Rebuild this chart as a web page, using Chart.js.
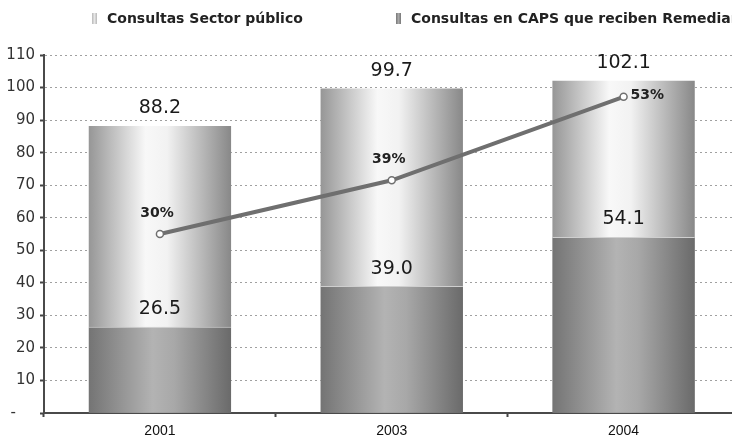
<!DOCTYPE html>
<html>
<head>
<meta charset="utf-8">
<script src="https://cdn.jsdelivr.net/npm/chart.js@4"></script>
<style>
  html, body { margin: 0; padding: 0; background: #fff; }
  body { width: 732px; height: 438px; overflow: hidden; }
  #wrap { position: relative; width: 745px; height: 438px; }
</style>
</head>
<body>
<div id="wrap"><canvas id="consultas" width="745" height="438"></canvas></div>
<script>
// años y series
const years = ['2001', '2003', '2004'];
const consultasSector = [88.2, 99.7, 102.1];
const consultasCaps = [26.5, 39.0, 54.1];
const pctCaps = [30, 39, 53];
const legendLabels = ['Consultas Sector público', 'Consultas en CAPS que reciben Remediar'];

const barPct = 0.614;
const fontFace = '"DejaVu Sans", Verdana, sans-serif';

// degradado horizontal sobre el ancho de cada barra
const barGradient = stops => ctx => {
  const chart = ctx.chart;
  if (!chart.chartArea || ctx.type !== 'data') return stops[1][1];
  const xs = chart.scales.x;
  const cx = xs.getPixelForValue(ctx.dataIndex);
  const half = xs.width / years.length * barPct / 2;
  const g = chart.ctx.createLinearGradient(cx - half, 0, cx + half, 0);
  stops.forEach(([o, c]) => g.addColorStop(o, c));
  return g;
};

const lightStops = [[0, '#969696'], [0.4, '#f8f8f8'], [0.55, '#f2f2f2'], [1, '#888888']];
const darkStops = [[0, '#747474'], [0.45, '#b3b3b3'], [0.6, '#a8a8a8'], [1, '#6a6a6a']];

// leyenda dibujada a mano arriba del gráfico
const legendPlugin = {
  id: 'legendaManual',
  afterDraw(chart) {
    const c = chart.ctx;
    const items = [
      {x: 92, fill: ['#e6e6e6', '#b8b8b8']},
      {x: 396, fill: ['#a8a8a8', '#777777']}
    ];
    c.save();
    items.forEach((it, i) => {
      const g = c.createLinearGradient(it.x, 0, it.x + 5, 0);
      g.addColorStop(0, it.fill[1]);
      g.addColorStop(0.5, it.fill[0]);
      g.addColorStop(1, it.fill[1]);
      c.fillStyle = g;
      c.fillRect(it.x, 13, 5, 11);
      c.fillStyle = '#222';
      c.font = 'bold 14px ' + fontFace;
      c.textBaseline = 'middle';
      c.textAlign = 'left';
      c.fillText(legendLabels[i], it.x + 15, 19);
    });
    c.restore();
  }
};

// etiquetas de valores sobre barras y puntos
const valueLabels = {
  id: 'valueLabels',
  afterDatasetsDraw(chart) {
    const c = chart.ctx;
    c.save();
    chart.data.datasets.forEach((ds, di) => {
      const meta = chart.getDatasetMeta(di);
      meta.data.forEach((el, i) => {
        const v = ds.data[i];
        if (ds.type === 'line') {
          c.font = 'bold 14px ' + fontFace;
          c.fillStyle = '#222';
          const txt = v + '%';
          if (i === ds.data.length - 1) {
            c.textAlign = 'left';
            c.textBaseline = 'middle';
            c.fillText(txt, el.x + 7, el.y - 1);
          } else {
            c.textAlign = 'center';
            c.textBaseline = 'bottom';
            c.fillText(txt, el.x - 3, el.y - 14);
          }
        } else {
          c.font = '19px ' + fontFace;
          c.fillStyle = '#1a1a1a';
          c.textAlign = 'center';
          c.textBaseline = 'bottom';
          c.fillText(v.toFixed(1), el.x, el.y - 8);
        }
      });
    });
    c.restore();
  }
};

const chart = new Chart(document.getElementById('consultas'), {
  data: {
    labels: years,
    datasets: [
      {
        type: 'line',
        label: '% CAPS',
        data: pctCaps,
        yAxisID: 'y2',
        borderColor: '#6f6f6f',
        borderWidth: 4,
        pointRadius: 3.5,
        pointBackgroundColor: '#fff',
        pointBorderColor: '#707070',
        pointBorderWidth: 1.5,
        order: 0
      },
      {
        type: 'bar',
        label: legendLabels[1],
        data: consultasCaps,
        backgroundColor: barGradient(darkStops),
        borderColor: '#cfcfcf',
        borderWidth: {top: 1, left: 0, right: 0, bottom: 0},
        borderSkipped: 'bottom',
        grouped: false,
        barPercentage: barPct,
        categoryPercentage: 1,
        order: 1
      },
      {
        type: 'bar',
        label: legendLabels[0],
        data: consultasSector,
        backgroundColor: barGradient(lightStops),
        grouped: false,
        barPercentage: barPct,
        categoryPercentage: 1,
        order: 2
      }
    ]
  },
  options: {
    responsive: false,
    animation: false,
    devicePixelRatio: 1,
    layout: {padding: {top: 55, right: 4, left: 0, bottom: 0}},
    plugins: {legend: {display: false}, tooltip: {enabled: false}},
    scales: {
      x: {
        offset: true,
        afterFit: s => { s.height = 25; },
        grid: {drawOnChartArea: false, offset: true, tickLength: 4, tickColor: '#444', tickWidth: 2},
        border: {color: '#4a4a4a', width: 2},
        ticks: {color: '#111', padding: 6, font: {family: '"Liberation Sans", Arial, sans-serif', size: 14}}
      },
      y: {
        min: 0,
        max: 110,
        afterFit: s => { s.width = 44; },
        ticks: {
          stepSize: 10,
          color: '#333',
          padding: 5,
          font: {family: fontFace, size: 15},
          callback: v => v === 0 ? '-    ' : v
        },
        grid: {color: '#a0a0a0', lineWidth: 1, tickLength: 4, tickColor: '#444', tickWidth: 2, tickBorderDash: []},
        border: {color: '#4a4a4a', width: 2, dash: [2, 3]}
      },
      y2: {
        display: false,
        min: 0,
        max: 60
      }
    }
  },
  plugins: [valueLabels, legendPlugin]
});
</script>
</body>
</html>
